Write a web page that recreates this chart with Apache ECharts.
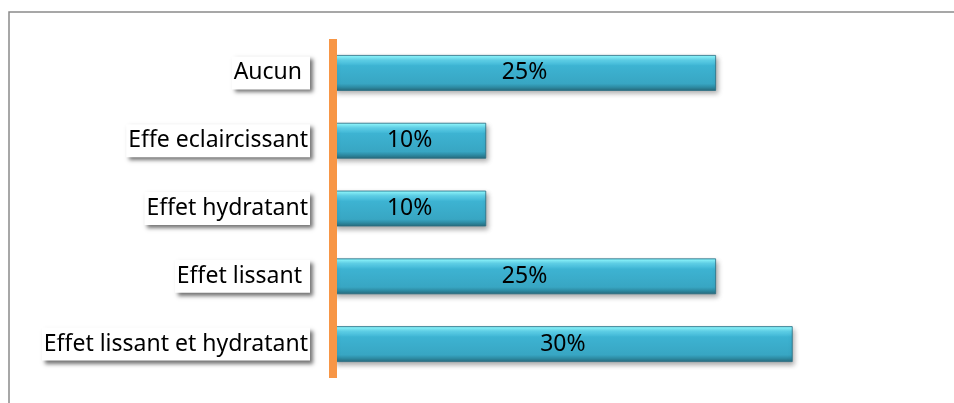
<!DOCTYPE html>
<html>
<head>
<meta charset="utf-8">
<script src="https://cdn.jsdelivr.net/npm/echarts@6/dist/echarts.min.js"></script>
<style>
html,body{margin:0;padding:0;background:#fff;}
#chart{width:954px;height:403px;}
</style>
</head>
<body>
<div id="chart"></div>
<script>
const categories = ['Aucun ', 'Effe eclaircissant', 'Effet hydratant', 'Effet lissant ', 'Effet lissant et hydratant'];
const values = [25, 10, 10, 25, 30];

const chart = echarts.init(document.getElementById('chart'), null, {renderer: 'canvas'});
chart.setOption({
  animation: false,
  backgroundColor: '#ffffff',
  grid: {left: 333, right: 8, top: 39, bottom: 25, containLabel: false},
  xAxis: {
    type: 'value', min: 0, max: 40, show: false
  },
  yAxis: {
    type: 'category',
    data: categories,
    inverse: true,
    z: 5,
    axisLine: {show: true, lineStyle: {color: '#F79646', width: 8, cap: 'butt'}},
    axisTick: {show: false},
    splitLine: {show: false},
    axisLabel: {
      margin: 23,
      fontFamily: 'Noto Sans',
      fontSize: 23,
      color: '#000',
      backgroundColor: '#fff',
      padding: [3, 2, 3, 2],
      lineHeight: 27,
      shadowColor: 'rgba(0,0,0,0.55)',
      shadowBlur: 4,
      shadowOffsetX: 3,
      shadowOffsetY: 3
    }
  },
  series: [{
    type: 'bar',
    data: values,
    barWidth: 36,
    z: 1,
    itemStyle: {
      color: new echarts.graphic.LinearGradient(0, 0, 0, 1, [
        {offset: 0, color: '#7ae6f5'},
        {offset: 0.05, color: '#88f6ff'},
        {offset: 0.15, color: '#5fd3ec'},
        {offset: 0.3, color: '#3db3d2'},
        {offset: 0.8, color: '#38a6c3'},
        {offset: 0.9, color: '#2d8aa2'},
        {offset: 1, color: '#28697b'}
      ]),
      borderColor: 'rgba(40,110,130,0.8)',
      borderWidth: 1,
      shadowColor: 'rgba(0,0,0,0.35)',
      shadowBlur: 5,
      shadowOffsetX: 2,
      shadowOffsetY: 3
    },
    label: {
      show: true,
      position: 'inside',
      formatter: '{c}%',
      fontFamily: 'Noto Sans',
      fontSize: 23,
      color: '#000'
    }
  }],
  graphic: [{
    type: 'rect',
    shape: {x: 9, y: 12, width: 960, height: 420},
    style: {fill: 'none', stroke: '#8a8a8a', lineWidth: 1.5},
    silent: true,
    z: 0
  }]
});
</script>
</body>
</html>
